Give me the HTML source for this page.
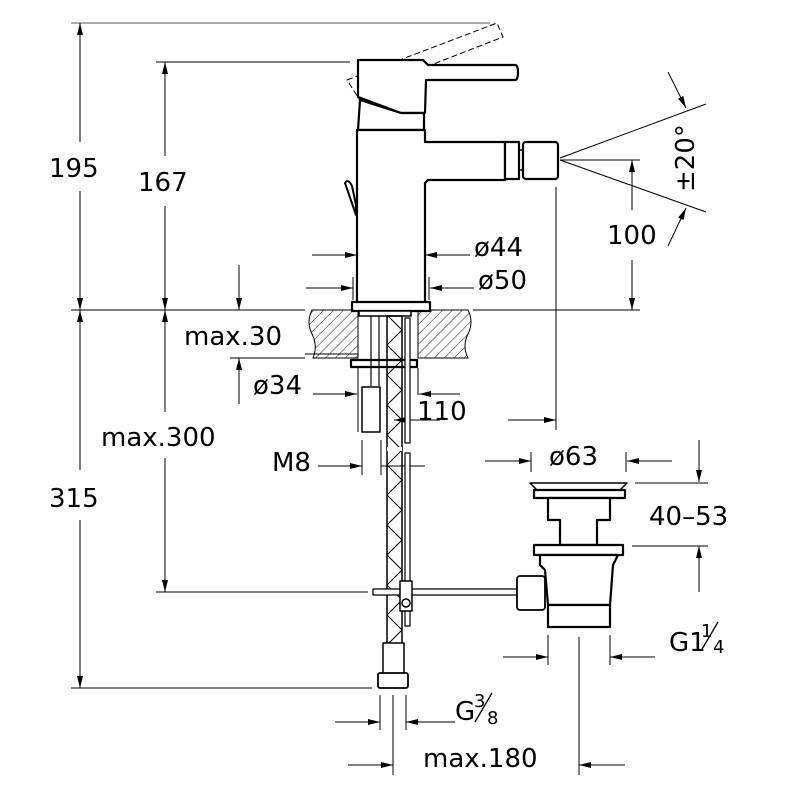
<!DOCTYPE html>
<html><head><style>
html,body{margin:0;padding:0;background:#fff;}
svg{display:block;}
text{font-family:"DejaVu Sans","Liberation Sans",sans-serif;fill:#000;}
</style></head><body>
<svg width="800" height="800" viewBox="0 0 800 800" xmlns="http://www.w3.org/2000/svg">
<defs>
<marker id="a" viewBox="0 0 12 6" refX="12" refY="3" markerWidth="12" markerHeight="6" markerUnits="userSpaceOnUse" orient="auto-start-reverse">
<path d="M0,0 L12,3 L0,6 z" fill="#000"/></marker>
<pattern id="h" width="7" height="7" patternUnits="userSpaceOnUse" patternTransform="rotate(45)">
<line x1="0" y1="0" x2="0" y2="7" stroke="#000" stroke-width="0.9"/></pattern>
<pattern id="x" x="387" y="0" width="15" height="30" patternUnits="userSpaceOnUse">
<path d="M0,15 L15,0 M0,15 L15,30" stroke="#000" stroke-width="1" fill="none"/></pattern>
</defs>
<g stroke="#000" stroke-width="1" fill="none">
<line x1="71" y1="23" x2="490" y2="23" stroke="#777" stroke-width="1.3"/>
<line x1="156" y1="62" x2="350" y2="62"/>
<line x1="71" y1="310" x2="305" y2="310"/>
<line x1="473" y1="310" x2="640" y2="310"/>
<line x1="71" y1="688" x2="372" y2="688"/>
<line x1="156" y1="592" x2="368" y2="592"/>
<line x1="80" y1="23" x2="80" y2="142" marker-start="url(#a)"/>
<line x1="80" y1="191" x2="80" y2="310" marker-end="url(#a)"/>
<line x1="80" y1="310" x2="80" y2="470" marker-start="url(#a)"/>
<line x1="80" y1="520" x2="80" y2="688" marker-end="url(#a)"/>
<line x1="165" y1="62" x2="165" y2="156" marker-start="url(#a)"/>
<line x1="165" y1="206" x2="165" y2="310" marker-end="url(#a)"/>
<line x1="165" y1="310" x2="165" y2="412" marker-start="url(#a)"/>
<line x1="165" y1="458" x2="165" y2="592" marker-end="url(#a)"/>
<line x1="239" y1="265" x2="239" y2="310" marker-end="url(#a)"/>
<line x1="239" y1="404" x2="239" y2="358" marker-end="url(#a)"/>
<line x1="230" y1="358" x2="305" y2="358"/>
<line x1="305" y1="354" x2="358" y2="354"/>
<line x1="312" y1="255" x2="357" y2="255" marker-end="url(#a)"/>
<line x1="470" y1="255" x2="425" y2="255" marker-end="url(#a)"/>
<line x1="306" y1="288" x2="353" y2="288" marker-end="url(#a)"/>
<line x1="474" y1="288" x2="430" y2="288" marker-end="url(#a)"/>
<line x1="353" y1="277" x2="353" y2="300"/>
<line x1="429" y1="277" x2="429" y2="300"/>
<line x1="313" y1="394" x2="357" y2="394" marker-end="url(#a)"/>
<line x1="358" y1="368" x2="358" y2="432"/>
<line x1="418" y1="368" x2="418" y2="395"/>
<line x1="460" y1="394" x2="419" y2="394" marker-end="url(#a)"/>
<line x1="556" y1="187" x2="556" y2="430"/>
<line x1="410" y1="420" x2="440" y2="420"/>
<line x1="508" y1="420" x2="556" y2="420" marker-end="url(#a)"/>
<line x1="394" y1="420" x2="408" y2="420" marker-start="url(#a)"/>
<line x1="318" y1="466" x2="362" y2="466" marker-end="url(#a)"/>
<line x1="362" y1="440" x2="362" y2="475"/>
<line x1="381" y1="440" x2="381" y2="475"/>
<line x1="381" y1="466" x2="425" y2="466"/>
<line x1="632" y1="210" x2="632" y2="160" marker-end="url(#a)"/>
<line x1="632" y1="260" x2="632" y2="310" marker-end="url(#a)"/>
<line x1="560" y1="160" x2="640" y2="160"/>
<line x1="560" y1="158" x2="706" y2="104"/>
<line x1="560" y1="160" x2="706" y2="212"/>
<line x1="668" y1="72" x2="686" y2="108" marker-end="url(#a)"/>
<line x1="668" y1="246" x2="686" y2="208" marker-end="url(#a)"/>
<line x1="485" y1="461" x2="531" y2="461" marker-end="url(#a)"/>
<line x1="672" y1="461" x2="627" y2="461" marker-end="url(#a)"/>
<line x1="531" y1="452" x2="531" y2="472"/>
<line x1="626" y1="452" x2="626" y2="472"/>
<line x1="699" y1="440" x2="699" y2="482" marker-end="url(#a)"/>
<line x1="699" y1="592" x2="699" y2="546" marker-end="url(#a)"/>
<line x1="635" y1="483" x2="708" y2="483"/>
<line x1="632" y1="546" x2="708" y2="546"/>
<line x1="548" y1="635" x2="548" y2="665"/>
<line x1="610" y1="635" x2="610" y2="665"/>
<line x1="503" y1="657" x2="548" y2="657" marker-end="url(#a)"/>
<line x1="655" y1="657" x2="610" y2="657" marker-end="url(#a)"/>
<line x1="579" y1="637" x2="579" y2="775"/>
<line x1="380" y1="695" x2="380" y2="730"/>
<line x1="393" y1="695" x2="393" y2="775"/>
<line x1="406" y1="695" x2="406" y2="730"/>
<line x1="335" y1="722" x2="380" y2="722" marker-end="url(#a)"/>
<line x1="455" y1="722" x2="406" y2="722" marker-end="url(#a)"/>
<line x1="348" y1="765" x2="393" y2="765" marker-end="url(#a)"/>
<line x1="625" y1="765" x2="579" y2="765" marker-end="url(#a)"/>
</g>
<path d="M312,310 L358,310 L358,358 L313,358 Q318,346 312,334 Q306,322 312,310 Z" fill="url(#h)" stroke="#000"/>
<path d="M418,310 L468,310 Q474,322 468,334 Q462,346 468,358 L418,358 Z" fill="url(#h)" stroke="#000"/>
<g stroke="#000" fill="#fff" stroke-width="2.2" stroke-linejoin="round">
<g stroke-width="1" stroke-dasharray="6,3" fill="none">
<path d="M347,80 L497,23 L503,37 L418,70 L424,103 L368,113 L347,80 Z"/>
</g>
<path d="M358,60 L423,60 L428,65 L515,65 Q518,65 518,72 Q518,80 515,80 L426,80 L425,113 L401,113 L358,97 Z"/>
<path d="M360,100 L401,113 L424,113 L424,130 L358,130 Z"/>
<path d="M357,130 L425,130 L425,142 L505,142 L505,180 L428,180 L425,183 L425,303 L357,303 Z"/>
<rect x="505" y="142" width="14" height="37"/>
<rect x="523" y="142" width="35" height="37" rx="3"/>
<line x1="519" y1="150" x2="523" y2="150" stroke-width="1.5"/>
<line x1="519" y1="170" x2="523" y2="170" stroke-width="1.5"/>
<path d="M345,183 Q348,178 352,186 L356,205 L356,215 Z" stroke-width="2"/>
<rect x="352" y="302" width="78" height="9"/>
<rect x="359" y="311" width="52" height="5" stroke-width="1.6"/>
<rect x="351" y="360" width="66" height="7"/>
<rect x="387" y="316" width="15" height="328" fill="url(#x)" stroke-width="1.5"/>
<line x1="387" y1="449" x2="402" y2="449" stroke="#fff" stroke-width="4"/>
<rect x="405" y="318" width="5" height="125" stroke-width="1.2"/>
<rect x="405" y="453" width="5" height="173" stroke-width="1.2"/>
<line x1="371" y1="316" x2="371" y2="386" stroke-width="1.2"/>
<line x1="379" y1="316" x2="379" y2="386" stroke-width="1.2"/>
<rect x="362" y="387" width="18" height="45" stroke-width="1.5"/>
<rect x="383" y="643" width="21" height="32" stroke-width="1.5"/>
<rect x="378" y="673" width="30" height="15" rx="2" stroke-width="1.8"/>
<rect x="373" y="589" width="152" height="6" stroke-width="1.3"/>
<rect x="400" y="581" width="12" height="30" stroke-width="1.5"/>
<circle cx="406" cy="603" r="4" stroke-width="1.5"/>
<path d="M530,483 L627,483 L620,490 L537,490 Z" stroke-width="1.5"/>
<rect x="534" y="490" width="91" height="8"/>
<path d="M548,498 L610,498 L610,520 L597,520 L597,545 L560,545 L560,520 L548,520 Z"/>
<rect x="534" y="545" width="89" height="10"/>
<path d="M540,555 L618,555 L613,565 L610,605 L548,605 L545,570 L540,565 Z"/>
<rect x="548" y="605" width="62" height="22"/>
<rect x="517" y="576" width="28" height="34" rx="3" stroke-width="1.8"/>
</g>
<g font-size="26">
<text x="49" y="177">195</text>
<text x="138" y="191">167</text>
<text x="49" y="507">315</text>
<text x="101" y="446">max.300</text>
<text x="184" y="345">max.30</text>
<text x="253" y="394">ø34</text>
<text x="272" y="471">M8</text>
<text x="417" y="420">110</text>
<text x="474" y="256">ø44</text>
<text x="478" y="289">ø50</text>
<text x="607" y="244">100</text>
<text x="549" y="465">ø63</text>
<text x="649" y="525">40–53</text>
<text x="423" y="767">max.180</text>
<text x="669" y="651">G1</text>
<text x="455" y="720">G</text>
<text transform="translate(694,192) rotate(-90)">±20°</text>
</g>
<g font-size="18">
<text x="701" y="637">1</text><text x="713" y="653">4</text>
<text x="474" y="707">3</text><text x="487" y="724">8</text>
</g>
<g stroke="#000" stroke-width="1.3">
<line x1="701" y1="651" x2="718" y2="622"/>
<line x1="475" y1="722" x2="492" y2="693"/>
</g>
</svg>
</body></html>
